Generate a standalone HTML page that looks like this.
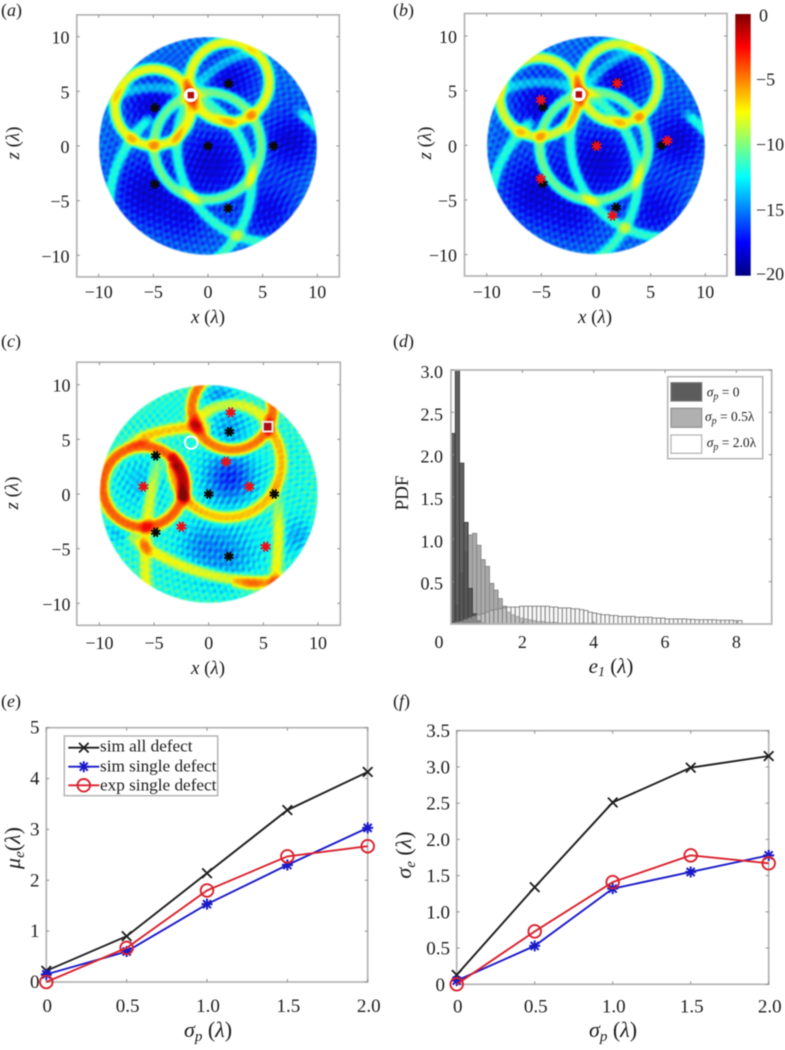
<!DOCTYPE html>
<html lang="en">
<head>
<meta charset="utf-8">
<title>Defect localisation heatmaps and error statistics</title>
<style>
html,body{margin:0;padding:0;background:#fff;width:785px;height:1050px;overflow:hidden}
#stage{position:relative;width:785px;height:1050px;filter:blur(0.4px)}
canvas{position:absolute;display:block}
svg{position:absolute;left:0;top:0}
text{font-family:"Liberation Serif",serif;fill:#1c1c1c}
.tick{font-size:18px}
.tick-e{font-size:19px}
.lab{font-size:19px;font-style:italic}
.lab-l{font-size:22px;font-style:italic}
.up{font-style:normal}
.panel{font-size:18px;font-style:italic}
.leg{font-size:17.2px}
.legd{font-size:13.5px;font-style:italic}
</style>
</head>
<body>
<div id="stage">
<canvas id="cv-a"></canvas>
<canvas id="cv-b"></canvas>
<canvas id="cv-c"></canvas>
<svg id="chart" width="785" height="1050" viewBox="0 0 785 1050" xmlns="http://www.w3.org/2000/svg">
  <text class="panel" x="1" y="16"><tspan class="up">(</tspan>a<tspan class="up">)</tspan></text>
  <text class="panel" x="393" y="16"><tspan class="up">(</tspan>b<tspan class="up">)</tspan></text>
  <text class="panel" x="1" y="347"><tspan class="up">(</tspan>c<tspan class="up">)</tspan></text>
  <text class="panel" x="393" y="347"><tspan class="up">(</tspan>d<tspan class="up">)</tspan></text>
  <text class="panel" x="1" y="707"><tspan class="up">(</tspan>e<tspan class="up">)</tspan></text>
  <text class="panel" x="393" y="707"><tspan class="up">(</tspan>f<tspan class="up">)</tspan></text>

  <text class="lab" x="208" y="323" text-anchor="middle">x <tspan class="up">(</tspan>λ<tspan class="up">)</tspan></text>
  <text class="lab" x="595" y="323" text-anchor="middle">x <tspan class="up">(</tspan>λ<tspan class="up">)</tspan></text>
  <text class="lab" x="208" y="674" text-anchor="middle">x <tspan class="up">(</tspan>λ<tspan class="up">)</tspan></text>
  <text class="lab" transform="translate(19,143) rotate(-90)" text-anchor="middle">z <tspan class="up">(</tspan>λ<tspan class="up">)</tspan></text>
  <text class="lab" transform="translate(431,143) rotate(-90)" text-anchor="middle">z <tspan class="up">(</tspan>λ<tspan class="up">)</tspan></text>
  <text class="lab" transform="translate(18,493) rotate(-90)" text-anchor="middle">z <tspan class="up">(</tspan>λ<tspan class="up">)</tspan></text>

  <text class="lab" style="font-size:21px" x="611" y="673" text-anchor="middle">e<tspan dy="3" font-size="14">1</tspan><tspan dy="-3"> </tspan><tspan class="up">(</tspan>λ<tspan class="up">)</tspan></text>
  <text class="lab up" style="font-style:normal" transform="translate(408,493) rotate(-90)" text-anchor="middle">PDF</text>

  <text class="lab-l" x="208" y="1037" text-anchor="middle">σ<tspan dy="4" font-size="15">p</tspan><tspan dy="-4"> </tspan><tspan class="up">(</tspan>λ<tspan class="up">)</tspan></text>
  <text class="lab-l" transform="translate(20,848) rotate(-90)" text-anchor="middle">μ<tspan dy="4" font-size="15">e</tspan><tspan dy="-4" class="up">(</tspan>λ<tspan class="up">)</tspan></text>
  <text class="lab-l" x="613" y="1037" text-anchor="middle">σ<tspan dy="4" font-size="15">p</tspan><tspan dy="-4"> </tspan><tspan class="up">(</tspan>λ<tspan class="up">)</tspan></text>
  <text class="lab-l" transform="translate(411,855) rotate(-90)" text-anchor="middle">σ<tspan dy="4" font-size="15">e</tspan><tspan dy="-4"> </tspan><tspan class="up">(</tspan>λ<tspan class="up">)</tspan></text>
</svg>
</div>
<script>
/* ---------- panel (a)(b)(c): defect maps ---------- */
const mapTicks = [-10, -5, 0, 5, 10];
const trueX = [-4.85, 1.9, 0, 6, -4.85, 1.85];
const trueZ = [3.5, 5.7, 0, 0, -3.5, -5.7];
const estBX = [-5.03, 1.95, 0.06, 6.52, -5.06, 1.52];
const estBZ = [4.15, 5.67, -0.06, 0.43, -3.05, -6.43];
const estCX = [-5.98, 2.01, 1.59, 3.72, -2.5, 5.21];
const estCZ = [0.67, 7.47, 2.96, 0.67, -2.99, -4.82];
/* each ring: centre x, centre z, radius, level dB, optional start/end angle */
const ringsA = [[1.95,5.85,3.65,-9.5],[-5.0,3.55,3.5,-9.5],[-0.05,0,4.9,-12.5],
  [6,0,8.85,-14.5,148,300],[6,0,8.85,-18,100,148],
  [-4.85,-3.5,8.84,-14.5,-70,68],[-4.85,-3.5,8.84,-18,68,140],
  [1.9,-5.7,10.94,-15,130,215],[1.9,-5.7,10.94,-15,-10,55]];
const ringsB = [[2.1,5.67,3.6,-10],[-5.2,4.4,3.6,-10],[-0.2,-0.1,4.95,-12.5],
  [6.5,0.4,8.85,-14.5,148,300],[6.5,0.4,8.85,-18,100,148],
  [-5,-3.1,8.85,-14.5,-70,68],[-5,-3.1,8.85,-18,68,140],
  [1.6,-6.4,11.4,-15,130,215],[1.6,-6.4,11.4,-15,-10,55]];
const ringsC = [[-6,0.67,3.7,-6],[2.16,7.74,3.7,-6.5],[1.65,2.85,5,-8.5,180,400],[-6,0.67,3.85,-8,-20,50],[-1,-8,14.1,-9,85,115],[2.1,4.2,4,-11,30,150],[29.2,-5.95,35,-11,165,200],[-29,-3,35.4,-10.5,-12,4],[5,12,20,-10.5,232,282],[5,12,20.3,-10,262,272]];
/* each patch: centre x, centre z, sigma, depth dB */
const patchesA = [[0.3,-1.5,2.2,-2.5],[-5,3.6,1.8,-2.5],[-5.5,-4.2,2.2,-2.5],[2,6,1.6,-2.3],[7.5,0.5,1.7,-2.5],[5.5,-6,1.8,-2],[-2,-6.5,1.5,-1.5]];
const patchesB = patchesA;
const patchesC = [[1.9,1.5,1.6,-4.5],[2,6,1.2,-2],[-6,1,1.6,-1.5],[1.5,-5.6,2,-2.5],[8.3,-4,1.2,-2],[-1,-4.5,1.3,-1.5],[1,9,1,-2.5],[-8.5,-3.5,0.8,-1.5]];

/* ---------- panel (d): histogram ---------- */
const histXTicks = [2, 4, 6, 8];
const histYTicks = [0.5, 1.0, 1.5, 2.0, 2.5, 3.0];
const histBinWidth = 0.12;
const histDark = [2.25,3.2,1.9,1.2,0.42,0.12,0.04,0.01];
const histMid = [0.03,0.22,0.6,0.85,1.05,1.07,0.93,0.76,0.68,0.48,0.4,0.3,0.21,0.14,0.11,0.09,0.07,0.06,0.05,0.04,0.03,0.03,0.02,0.02,0.02,0.01,0.01,0.01,0.01,0.01,0.01,0.01,0.01,0.01];
const histWide = [0.01,0.02,0.03,0.05,0.07,0.09,0.11,0.12,0.14,0.16,0.17,0.18,0.19,0.2,0.2,0.2,0.21,0.21,0.21,0.21,0.21,0.21,0.21,0.2,0.2,0.19,0.19,0.19,0.18,0.18,0.17,0.16,0.14,0.13,0.12,0.11,0.11,0.1,0.1,0.09,0.09,0.09,0.09,0.08,0.08,0.08,0.08,0.07,0.07,0.07,0.06,0.06,0.06,0.06,0.06,0.055,0.055,0.05,0.05,0.05,0.05,0.05,0.045,0.045,0.045,0.045,0.04,0.04];

/* ---------- panels (e)(f): line charts ---------- */
const sigmaP = [0, 0.5, 1.0, 1.5, 2.0];
const sigmaLabels = ['0', '0.5', '1.0', '1.5', '2.0'];
const muTicks = [0, 1, 2, 3, 4, 5];
const muAll = [0.22, 0.9, 2.14, 3.38, 4.13];
const muSingle = [0.15, 0.6, 1.53, 2.3, 3.03];
const muExp = [0, 0.67, 1.8, 2.47, 2.67];
const sdTicks = [0, 0.5, 1.0, 1.5, 2.0, 2.5, 3.0, 3.5];
const sdAll = [0.13, 1.34, 2.51, 2.99, 3.15];
const sdSingle = [0.05, 0.53, 1.32, 1.55, 1.78];
const sdExp = [0, 0.73, 1.41, 1.78, 1.67];
const cbTicks = [0, -5, -10, -15, -20];

const NS = 'http://www.w3.org/2000/svg';
const root = document.getElementById('chart');
function mk(tag, attrs, parent, txt) {
  const el = document.createElementNS(NS, tag);
  for (const k in attrs) el.setAttribute(k, attrs[k]);
  if (txt !== undefined) el.textContent = txt;
  (parent || root).appendChild(el);
  return el;
}
function clamp(v) { return v < 0 ? 0 : v > 1 ? 1 : v; }
function jet(t) {
  return [clamp(Math.min(4*t-1.5, -4*t+4.5)), clamp(Math.min(4*t-0.5, -4*t+3.5)), clamp(Math.min(4*t+0.5, -4*t+2.5))];
}
function fmt(v) { return String(v).replace('-', '\u2212'); }

function drawField(id, x0, z0, s, base, texAmp, rings, patches, sigma) {
  const cv = document.getElementById(id);
  const L = Math.floor(x0 - 113), T = Math.floor(z0 - 113), W = 226;
  cv.width = W; cv.height = W;
  cv.style.left = L + 'px'; cv.style.top = T + 'px';
  const ctx = cv.getContext('2d');
  const im = ctx.createImageData(W, W);
  const P = 1.4;
  for (let py = 0; py < W; py++) for (let px = 0; px < W; px++) {
    const x = (px + 0.5 + L - x0) / s, z = (z0 - (py + 0.5 + T)) / s;
    const d = Math.hypot(x, z);
    const a = clamp((10.03 - d) * s / 1.6);
    if (a <= 0) continue;
    let bg = base;
    for (const p of patches) {
      const q = ((x-p[0])*(x-p[0]) + (z-p[1])*(z-p[1])) / (2*p[2]*p[2]);
      bg += p[3] * Math.exp(-q);
    }
    bg += Math.max(0, d - 8.8) * 0.4;
    bg += texAmp * (0.55*Math.sin(11*Math.hypot(x+10, z-3)) + 0.55*Math.sin(12.5*Math.hypot(x-9, z+6)) + 0.45*Math.sin(10*Math.hypot(x-1, z-11)));
    let amp = 0;
    for (const r of rings) {
      const dx = x - r[0], dz = z - r[1];
      const del = Math.hypot(dx, dz) - r[2];
      if (Math.abs(del) > 4) continue;
      let w = 1;
      if (r.length > 4) {
        const ang = ((Math.atan2(dz, dx)*180/Math.PI - r[4]) % 360 + 360) % 360;
        const span = r[5] - r[4];
        const e = Math.min(ang, span - ang);
        w = ang > span + 10 && ang < 350 ? 0 : clamp(e/8 + 0.5);
      }
      const g = Math.exp(-Math.pow(del*del/(2*sigma*sigma), 1.5)) + 0.12*Math.exp(-del*del/(2*1.1*1.1));
      amp += Math.pow(w * g * Math.pow(10, r[3]/20), P);
    }
    const val = 10 * Math.log10(Math.pow(10, bg/10) + Math.pow(amp, 2/P));
    const c = jet(clamp((val + 20) / 20));
    const i = (py*W + px) * 4;
    im.data[i] = c[0]*240 + 8; im.data[i+1] = c[1]*240 + 8; im.data[i+2] = c[2]*235 + 8;
    im.data[i+3] = a*255;
  }
  ctx.putImageData(im, 0, 0);
}

function frame(name, l, t, r, b) {
  const el = mk('rect', {x:l, y:t, width:r-l, height:b-t, fill:'none', stroke:'#b4b4b4', 'stroke-width':1.7});
  
  
}
function tickMark(x1, y1, x2, y2) {
  const el = mk('line', {x1:x1, y1:y1, x2:x2, y2:y2, stroke:'#8e8e8e', 'stroke-width':1});
  
  
}
function tickLabel(x, y, str, anchor, cls) {
  const el = mk('text', {x:x, y:y, 'text-anchor':anchor, class:cls || 'tick'}, root, str);
  
  
}
function star(x, y, col, rad, name) {
  const g = mk('g', {});
  
  
  for (let k = 0; k < 4; k++) {
    const an = k * Math.PI / 4 + Math.PI / 8;
    mk('line', {x1:x-rad*Math.cos(an), y1:y-rad*Math.sin(an), x2:x+rad*Math.cos(an), y2:y+rad*Math.sin(an), stroke:col, 'stroke-width':1.9}, g);
  }
  mk('circle', {cx:x, cy:y, r:rad*0.62, fill:col}, g);
}

function mapPanel(key, l, t, r, b, x0, z0, s, tickBase, labRight, estX, estZ) {
  const X = v => x0 + v * s, Z = v => z0 - v * s;
  frame('plot-frame-' + key, l, t, r, b);
  mapTicks.forEach(v => {
    tickMark(X(v), b, X(v), b-3); tickMark(X(v), t, X(v), t+3);
    tickMark(l, Z(v), l+3, Z(v)); tickMark(r, Z(v), r-3, Z(v));
    tickLabel(X(v), tickBase, fmt(v), 'middle');
    tickLabel(labRight, Z(v) + 7, fmt(v), 'end');
  });
  trueX.forEach((v, i) => star(X(v), Z(trueZ[i]), '#0a0a0a', 5, 'true-defect-marker'));
  if (estX) estX.forEach((v, i) => star(X(v), Z(estZ[i]), '#e9121c', 5.3, 'estimated-defect-marker'));
  return {X:X, Z:Z};
}

/* maps */
drawField('cv-a', 208, 146, 10.93, -15.7, 0.7, ringsA, patchesA, 0.38);
drawField('cv-b', 596, 145.3, 10.93, -15.7, 0.7, ringsB, patchesB, 0.38);
drawField('cv-c', 208.7, 494, 10.93, -12.1, 0.9, ringsC, patchesC, 0.42);

const pa = mapPanel('a', 76.8, 14.9, 339.3, 276.9, 208, 146, 10.93, 298, 69.5);
const pb = mapPanel('b', 464.5, 13.5, 727, 276, 596, 145.3, 10.93, 298, 457, estBX, estBZ);
const pc = mapPanel('c', 76.8, 362.2, 340.3, 625.3, 208.7, 494, 10.93, 649, 70.5, estCX, estCZ);

/* source markers */
function srcCircle(p, name) {
  let el = mk('circle', {cx:p.X(-1.57), cy:p.Z(4.65), r:6.3, fill:'#fff', stroke:'#fff', 'stroke-width':1.5});
  
  
  el = mk('rect', {x:p.X(-1.57)-3.2, y:p.Z(4.65)-3.2, width:6.4, height:6.4, fill:'#b00d12'});
  
  
}
srcCircle(pa, 'source-marker-a');
srcCircle(pb, 'source-marker-b');
{
  const ring = mk('circle', {cx:pc.X(-1.6), cy:pc.Z(4.7), r:6.3, fill:'none', stroke:'#fff', 'stroke-width':2});
  
  
  const sq = mk('rect', {x:pc.X(5.4)-4.8, y:pc.Z(6.16)-4.8, width:9.6, height:9.6, fill:'#b00d12', stroke:'#f4e8e8', 'stroke-width':2});
  
  
}

/* colour bar */
{
  const cbL = 735.3, cbR = 750.7, cbT = 14, cbB = 275.3;
  const g = mk('g', {});
  
  
  const n = 130, h = (cbB - cbT) / n;
  for (let i = 0; i < n; i++) {
    const c = jet(1 - (i + 0.5) / n);
    mk('rect', {x:cbL, y:cbT + i*h, width:cbR-cbL, height:h+0.4, fill:'rgb(' + Math.round(c[0]*255) + ',' + Math.round(c[1]*255) + ',' + Math.round(c[2]*255) + ')'}, g);
  }
  const Y = v => cbT + (-v / 20) * (cbB - cbT);
  cbTicks.forEach(v => {
    const lx = v === 0 ? 759 : 756;
    const el = mk('text', {x:lx, y:Math.min(Y(v) + 6 + (v === 0 ? 1.5 : 0), 280), 'text-anchor':'start', class:'tick'}, root, fmt(v));
    
    
  });
}

/* histogram panel d */
{
  const l = 451, r = 771.7, t = 370, b = 624;
  const X = v => l + v * 35.67, Y = v => b - v * 84.67;
  const bar = (i, v, fill, stroke, op, name) => {
    const top = Y(Math.min(v, 3));
    const el = mk('rect', {x:X(i*histBinWidth), y:top, width:histBinWidth*35.67, height:b-top, fill:fill, stroke:stroke, 'stroke-width':0.9, 'fill-opacity':op});
    
    
  };
  histMid.forEach((v, i) => bar(i, v, '#a9a9a9', '#858585', 1, 'bar-sigma-0-5'));
  histDark.forEach((v, i) => bar(i, v, '#4b4b4b', '#3c3c3c', 0.88, 'bar-sigma-0'));
  histWide.forEach((v, i) => bar(i, v, '#e8e8e8', '#808080', 0.35, 'bar-sigma-2-0'));
  frame('plot-frame-d', l, t, r, b);
  histXTicks.forEach(v => {
    tickMark(X(v), b, X(v), b-3); tickMark(X(v), t, X(v), t+3);
    tickLabel(X(v), 648, String(v), 'middle');
  });
  tickLabel(439, 648, '0', 'middle');
  histYTicks.forEach(v => {
    tickMark(l, Y(v), l+3, Y(v)); tickMark(r, Y(v), r-3, Y(v));
    tickLabel(443, Y(v) + 8, v.toFixed(1), 'end');
  });
  const box = mk('rect', {x:667.7, y:376.7, width:95, height:82, fill:'#fff', stroke:'#b4b4b4', 'stroke-width':1.5});
  
  
  const sw = [[382.7,18.3,'#5c5c5c','#777'],[408.3,19,'#b0b0b0','#8f8f8f'],[435,18.3,'#fff','#b0b0b0']];
  const lt = [[706.7,396.7,'0'],[705,421,'0.5λ'],[706.7,447,'2.0λ']];
  sw.forEach((q, i) => {
    const s = mk('rect', {x:671, y:q[0], width:30.7, height:q[1], fill:q[2], stroke:q[3], 'stroke-width':1.2});
    
    
    const tx = mk('text', {x:lt[i][0], y:lt[i][1], class:'legd'});
    
    
    mk('tspan', {}, tx, 'σ');
    mk('tspan', {dy:3, 'font-size':10}, tx, 'p');
    mk('tspan', {dy:-3, style:'font-style:normal'}, tx, ' = ' + lt[i][2]);
  });
}

/* line panels */
function markX(x, y, g, col) {
  mk('path', {d:'M'+(x-4.8)+' '+(y-4.8)+'L'+(x+4.8)+' '+(y+4.8)+'M'+(x-4.8)+' '+(y+4.8)+'L'+(x+4.8)+' '+(y-4.8), stroke:col, 'stroke-width':1.8, fill:'none'}, g);
}
function markStar(x, y, g, col) {
  mk('path', {d:'M'+(x-5.5)+' '+y+'L'+(x+5.5)+' '+y+'M'+x+' '+(y-5.5)+'L'+x+' '+(y+5.5)+'M'+(x-4)+' '+(y-4)+'L'+(x+4)+' '+(y+4)+'M'+(x-4)+' '+(y+4)+'L'+(x+4)+' '+(y-4), stroke:col, 'stroke-width':2, fill:'none'}, g);
}
function markO(x, y, g, col) {
  mk('circle', {cx:x, cy:y, r:6.3, fill:'none', stroke:col, 'stroke-width':1.9}, g);
}
function series(X, Y, vals, col, mark, name) {
  const g = mk('g', {});
  
  
  mk('polyline', {points:vals.map((v, i) => X(sigmaP[i]) + ',' + Y(v)).join(' '), fill:'none', stroke:col, 'stroke-width':1.9}, g);
  vals.forEach((v, i) => mark(X(sigmaP[i]), Y(v), g, col));
}
const BLACK = '#1d1d1d', BLUE = '#1a1ac9', RED = '#d9222e';
{
  const l = 46.3, r = 367.7, t = 727.7, b = 982;
  const X = v => l + v * (r - l) / 2, Y = v => b - v * (b - t) / 5;
  frame('plot-frame-e', l, t, r, b);
  sigmaP.forEach((v, i) => {
    tickMark(X(v), b, X(v), b-3); tickMark(X(v), t, X(v), t+3);
    tickLabel(X(v) + 1, 1012, sigmaLabels[i], 'middle', 'tick-e');
  });
  muTicks.forEach(v => {
    tickMark(l, Y(v), l+3, Y(v)); tickMark(r, Y(v), r-3, Y(v));
    tickLabel(39.5, Y(v) + 6, String(v), 'end', 'tick-e');
  });
  series(X, Y, muAll, BLACK, markX, 'series-sim-all-defect-mu');
  series(X, Y, muSingle, BLUE, markStar, 'series-sim-single-defect-mu');
  series(X, Y, muExp, RED, markO, 'series-exp-single-defect-mu');
  const box = mk('rect', {x:64.3, y:736, width:153.4, height:59.7, fill:'#fff', stroke:'#b4b4b4', 'stroke-width':1.5});
  
  
  const rows = [[747.7,751.7,'sim all defect',BLACK,markX],[766.7,771.7,'sim single defect',BLUE,markStar],[785.3,790.7,'exp single defect',RED,markO]];
  rows.forEach(q => {
    const g = mk('g', {});
    
    
    mk('line', {x1:68.3, y1:q[0], x2:99.3, y2:q[0], stroke:q[3], 'stroke-width':1.9}, g);
    q[4](83.8, q[0], g, q[3]);
    mk('text', {x:100, y:q[1], class:'leg'}, g, q[2]);
  });
}
{
  const l = 456.7, r = 768.7, t = 730.7, b = 984.3;
  const X = v => l + v * (r - l) / 2, Y = v => b - v * (b - t) / 3.5;
  frame('plot-frame-f', l, t, r, b);
  sigmaP.forEach((v, i) => {
    tickMark(X(v), b, X(v), b-3); tickMark(X(v), t, X(v), t+3);
    tickLabel(X(v) + 1, 1012.5, sigmaLabels[i], 'middle', 'tick-e');
  });
  sdTicks.forEach(v => {
    tickMark(l, Y(v), l+3, Y(v)); tickMark(r, Y(v), r-3, Y(v));
    tickLabel(v === 0 ? 445 : 450, Y(v) + 6.5, v === 0 ? '0' : v.toFixed(1), 'end', 'tick-e');
  });
  series(X, Y, sdAll, BLACK, markX, 'series-sim-all-defect-sd');
  series(X, Y, sdSingle, BLUE, markStar, 'series-sim-single-defect-sd');
  series(X, Y, sdExp, RED, markO, 'series-exp-single-defect-sd');
}
</script>
</body>
</html>
